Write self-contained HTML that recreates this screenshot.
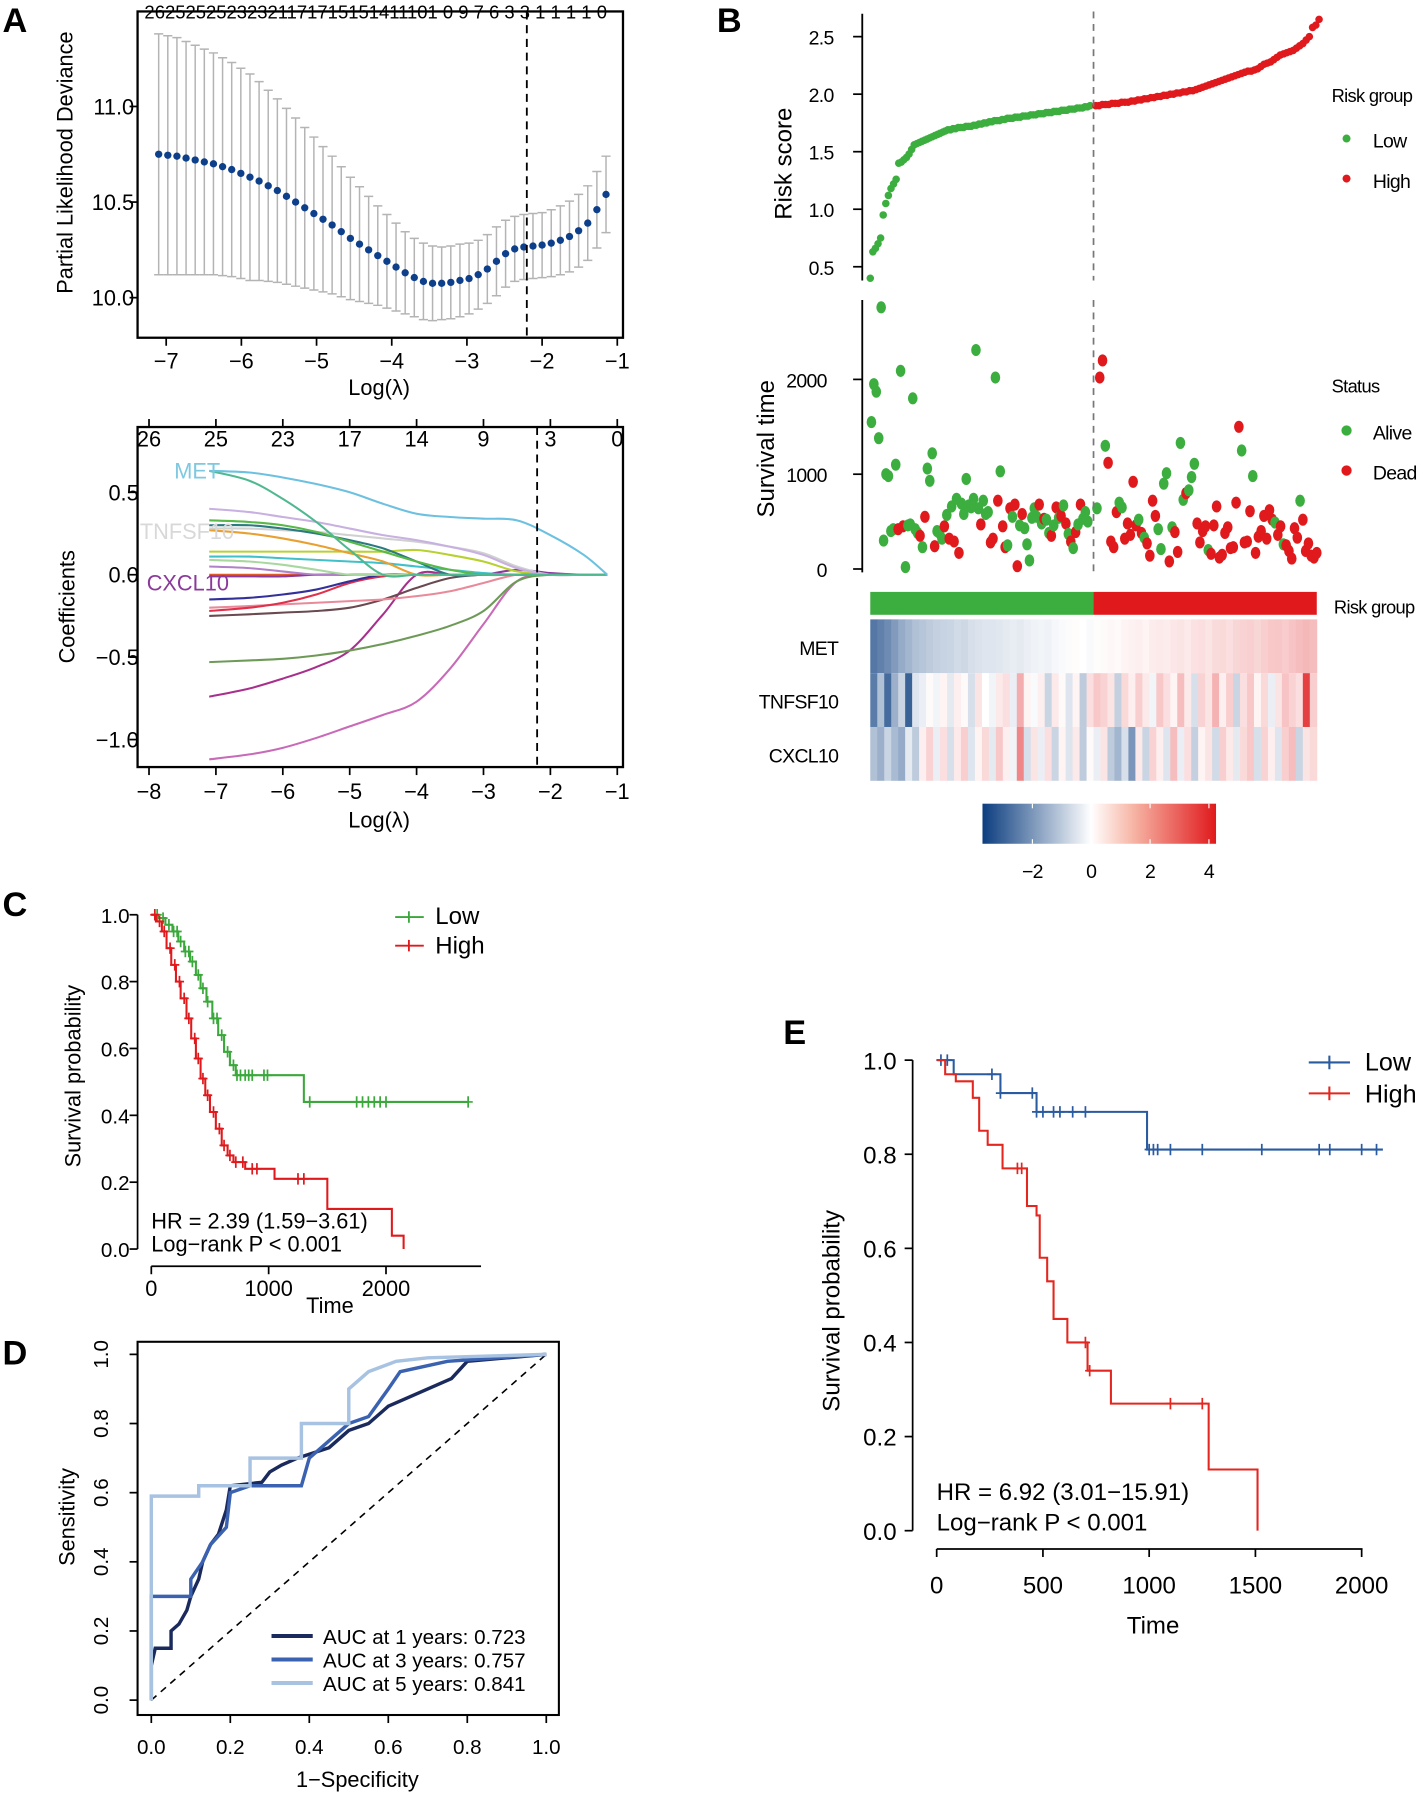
<!DOCTYPE html>
<html><head><meta charset="utf-8">
<style>
html,body{margin:0;padding:0;background:#fff;}
svg{display:block;font-family:"Liberation Sans",Arial,sans-serif;}
.n text{letter-spacing:-0.6px;}
</style></head>
<body>
<svg id="fig" width="1420" height="1794" viewBox="0 0 1240 1567">
<rect width="1240" height="1567" fill="#fff"/>
</svg>
<script>
// ===== Panel A (CV deviance) data =====
const aMean=[10.75,10.745,10.74,10.73,10.72,10.71,10.70,10.685,10.67,10.65,10.63,10.61,10.585,10.56,10.53,10.50,10.47,10.44,10.41,10.38,10.345,10.31,10.28,10.25,10.22,10.19,10.16,10.13,10.105,10.085,10.075,10.075,10.08,10.09,10.10,10.12,10.15,10.19,10.23,10.255,10.265,10.27,10.275,10.285,10.30,10.32,10.35,10.39,10.46,10.54];
const aSE=[0.63,0.625,0.62,0.61,0.60,0.59,0.58,0.57,0.56,0.55,0.54,0.52,0.50,0.48,0.46,0.44,0.42,0.40,0.38,0.36,0.34,0.32,0.30,0.28,0.26,0.245,0.23,0.215,0.205,0.20,0.195,0.19,0.19,0.19,0.185,0.18,0.18,0.18,0.175,0.17,0.17,0.17,0.17,0.175,0.18,0.185,0.19,0.195,0.2,0.2];
const aXTicks=[-7,-6,-5,-4,-3,-2,-1];
const aYTicks=[10.0,10.5,11.0];
// ===== Panel A (coefficient paths) data =====
const cLam=[-7.1,-6.5,-6,-5.5,-5,-4.5,-4,-3.5,-3,-2.5,-2,-1.5,-1.15];
const cMET=[.63,.62,.59,.55,.50,.43,.37,.35,.34,.33,.24,.12,0];
const cTeal=[.63,.57,.46,.32,.15,0,0,0,0,0,0,0,0];
const cLav=[.40,.38,.35,.32,.28,.24,.21,.17,.12,.04,0,0,0];
const cGreen=[.33,.32,.30,.26,.20,.14,.08,.03,0,0,0,0,0];
const cDTeal=[.30,.30,.28,.25,.21,.16,.08,0,0,0,0,0,0];
const cGray=[.28,.28,.27,.26,.24,.22,.20,.17,.13,.05,0,0,0];
const cOrange=[.27,.25,.22,.18,.13,.08,0,0,0,0,0,0,0];
const cYG=[.14,.14,.14,.14,.14,.14,.15,.12,.08,.02,0,0,0];
const cCyan=[.11,.11,.10,.09,.08,.07,.05,.03,.01,0,0,0,0];
const cLGreen=[.09,.08,.06,.03,0,0,0,0,0,0,0,0,0];
const cLPurp=[.05,.04,.02,0,0,0,0,0,0,0,0,0,0];
const cCXCL=[-.01,-.01,-.01,0,0,0,0,0,0,.03,.01,0,0];
const cDBlue=[-.15,-.14,-.12,-.09,-.04,0,0,0,0,0,0,0,0];
const cCrim=[-.22,-.20,-.17,-.12,-.05,-.01,0,0,0,0,0,0,0];
const cPink=[-.20,-.19,-.18,-.17,-.16,-.15,-.13,-.10,-.05,0,0,0,0];
const cBrown=[-.25,-.24,-.23,-.22,-.20,-.15,-.08,-.02,0,0,0,0,0];
const cOlive=[-.53,-.52,-.51,-.49,-.46,-.42,-.37,-.31,-.22,-.04,0,0,0];
const cMag=[-.74,-.69,-.63,-.56,-.46,-.24,0,0,0,0,0,0,0];
const cViol=[-1.12,-1.09,-1.05,-.99,-.92,-.85,-.77,-.57,-.30,-.04,0,0,0];
const cFlat=[0,0,0,0,0,0,0,0,0,0,0,0,0];
const cTopLab=[26,25,23,17,14,9,3,0];
const cTopPos=[-8,-7,-6,-5,-4,-3,-2,-1];
// ===== Panel B data =====
const riskLow=[0.40,0.63,0.66,0.70,0.75,0.95,1.05,1.12,1.18,1.22,1.26,1.40,1.41,1.43,1.45,1.48,1.52,1.56,1.57,1.58,1.59,1.60,1.61,1.62,1.63,1.64,1.65,1.66,1.67,1.68,1.69,1.69,1.70,1.70,1.71,1.71,1.71,1.72,1.72,1.72,1.73,1.73,1.74,1.74,1.75,1.75,1.76,1.76,1.77,1.77,1.77,1.78,1.78,1.79,1.79,1.79,1.80,1.80,1.80,1.81,1.81,1.81,1.82,1.82,1.82,1.83,1.83,1.83,1.84,1.84,1.84,1.85,1.85,1.85,1.86,1.86,1.86,1.87,1.87,1.87,1.88,1.88,1.88,1.89,1.89,1.90];
const riskHigh=[1.90,1.90,1.91,1.91,1.91,1.92,1.92,1.92,1.93,1.93,1.93,1.94,1.94,1.95,1.95,1.96,1.96,1.97,1.97,1.98,1.98,1.99,1.99,2.00,2.00,2.01,2.01,2.02,2.02,2.03,2.03,2.04,2.05,2.06,2.07,2.08,2.09,2.10,2.11,2.12,2.13,2.14,2.15,2.16,2.17,2.18,2.19,2.20,2.20,2.21,2.22,2.24,2.26,2.27,2.28,2.30,2.32,2.34,2.35,2.36,2.37,2.38,2.40,2.42,2.44,2.47,2.50,2.58,2.60,2.65];
const timeLow=[1550,1950,1870,1380,2760,300,1000,980,400,420,1100,420,2090,450,20,460,470,1800,420,380,350,230,550,1060,930,1220,240,400,380,320,450,570,320,660,290,740,170,690,580,950,670,650,740,2310,640,470,720,580,600,280,320,2020,720,1030,450,230,250,640,550,680,30,460,580,430,260,90,540,640,550,680,480,530,520,380,350,460,650,540,560,670,480,370,290,220,390,470,680,530,600,500];
const statLow=[0,0,0,0,0,0,0,0,0,0,0,1,0,1,0,0,0,0,0,0,1,0,1,0,0,0,1,0,0,0,1,0,1,0,1,0,1,0,0,0,0,0,0,0,0,1,0,0,0,1,1,0,1,0,1,1,0,1,0,1,1,0,1,0,0,0,0,0,0,1,0,1,0,0,1,0,1,0,1,0,1,0,1,0,1,0,1,0,0,0];
const timeHigh=[640,2020,2200,1300,1120,290,230,600,700,650,320,480,360,920,460,520,380,330,270,140,720,560,420,210,900,1010,80,440,390,180,1330,730,800,830,970,1110,480,280,400,450,200,160,460,660,120,150,380,440,220,230,700,1500,1250,280,290,610,980,170,340,400,560,320,620,520,490,360,450,260,250,190,110,430,330,720,520,190,270,140,120,170];
const statHigh=[0,1,1,0,1,1,1,1,0,0,1,1,1,1,1,0,1,0,1,1,1,1,0,0,0,0,1,0,1,1,0,0,1,0,0,0,1,1,1,1,0,1,1,1,1,1,1,1,1,1,1,1,0,1,1,1,0,1,1,1,1,1,1,1,0,1,1,0,1,1,1,1,1,0,1,1,1,1,1,1];
const hmMET=[-2.6,-2.4,-2.2,-1.9,-1.6,-1.4,-1.2,-1.1,-1.0,-0.9,-0.85,-0.8,-0.7,-0.75,-0.6,-0.55,-0.5,-0.5,-0.45,-0.4,-0.35,-0.4,-0.3,-0.25,-0.2,-0.25,-0.15,-0.1,-0.05,0.05,0,-0.1,0.05,0.1,0.15,0.1,0.2,0.25,0.3,0.2,0.35,0.4,0.35,0.45,0.5,0.4,0.55,0.6,0.5,0.65,0.7,0.6,0.75,0.8,0.85,0.75,0.9,1.0,1.05,0.95,1.1,1.2,1.3,1.2];
const hmTNF=[-2.5,-1.2,-2.8,-1.5,-0.8,-3.0,-0.5,-0.3,0.1,-0.2,0.2,-0.4,0.3,0.1,-0.6,0.5,0.0,-0.2,0.4,0.6,-0.3,1.5,0.2,-0.1,0.3,-0.8,0.4,0.1,-0.5,0.2,-1.0,0.6,1.0,0.8,0.5,-0.9,0.7,0.3,0.9,0.4,-0.2,1.0,0.6,0.2,1.2,0.4,-0.6,0.8,0.5,1.4,0.3,0.9,-0.8,0.6,1.0,0.2,0.7,-0.3,0.5,1.1,0.8,0.6,3.5,0.9];
const hmCXC=[-1.2,-1.5,-0.8,-1.3,-1.6,-0.4,-1.0,0.3,0.8,-0.3,0.6,-0.6,0.4,0.9,-0.5,0.2,0.7,-0.4,1.0,0.3,-0.2,2.2,-0.6,0.5,-0.3,0.6,-0.8,0.2,-0.5,0.4,-1.0,0.1,-0.3,0.5,-1.0,-1.4,-0.6,-2.0,0.4,-0.8,0.8,0.3,-0.5,1.2,-0.3,0.6,-0.9,0.2,0.5,-0.7,0.9,0.4,-0.4,0.7,1.0,-0.6,0.8,0.3,-0.5,0.9,1.2,-0.8,0.5,0.7];
const hmGenes=["MET","TNFSF10","CXCL10"];
const cbTicks=[-2,0,2,4];
// ===== Panel C data =====
const kmCLowT=[0,60,120,180,230,280,330,380,420,470,520,570,620,670,720,1300,2700];
const kmCLowS=[1,0.99,0.97,0.95,0.92,0.89,0.86,0.82,0.78,0.74,0.69,0.64,0.59,0.55,0.52,0.44,0.44];
const kmCHighT=[0,40,90,130,170,210,250,300,340,380,420,460,500,550,600,650,700,800,1050,1500,2050,2150];
const kmCHighS=[1,0.98,0.95,0.90,0.85,0.80,0.75,0.69,0.63,0.57,0.51,0.46,0.41,0.36,0.31,0.28,0.26,0.24,0.21,0.12,0.04,0];
const cenCLow=[50,100,150,190,220,250,290,320,350,400,440,480,530,560,600,650,700,730,760,800,830,860,960,990,1350,1750,1800,1850,1900,1950,2000,2700];
const cenCHigh=[30,70,110,160,200,240,280,320,370,400,440,480,530,580,620,670,720,780,860,900,1250,1300];
const kmYTicks=[0,0.2,0.4,0.6,0.8,1.0];
const cXTicks=[0,1000,2000];
// ===== Panel D data =====
const roc1F=[0,0,0.01,0.05,0.05,0.07,0.09,0.10,0.12,0.13,0.15,0.17,0.19,0.20,0.28,0.30,0.33,0.37,0.45,0.50,0.55,0.60,0.70,0.76,0.80,0.90,1];
const roc1T=[0,0.10,0.15,0.15,0.20,0.22,0.26,0.30,0.35,0.40,0.45,0.48,0.55,0.62,0.63,0.66,0.68,0.70,0.73,0.78,0.80,0.85,0.90,0.93,0.98,0.99,1];
const roc3F=[0,0,0.10,0.10,0.13,0.15,0.19,0.20,0.25,0.38,0.40,0.45,0.50,0.55,0.60,0.63,0.75,1];
const roc3T=[0,0.30,0.30,0.35,0.40,0.45,0.50,0.60,0.62,0.62,0.70,0.75,0.80,0.82,0.90,0.95,0.98,1];
const roc5F=[0,0,0.12,0.12,0.25,0.25,0.38,0.38,0.50,0.50,0.55,0.62,0.70,1];
const roc5T=[0,0.59,0.59,0.62,0.62,0.70,0.70,0.80,0.80,0.90,0.95,0.98,0.99,1];
const rocLabels=["AUC at 1 years: 0.723","AUC at 3 years: 0.757","AUC at 5 years: 0.841"];
const dTicks=[0,0.2,0.4,0.6,0.8,1.0];
// ===== Panel E data =====
const kmELowT=[0,80,300,470,990,2100];
const kmELowS=[1,0.97,0.93,0.89,0.81,0.81];
const kmEHighT=[0,40,90,170,200,240,310,425,470,485,520,550,615,710,820,1280,1510];
const kmEHighS=[1,0.97,0.955,0.92,0.85,0.82,0.77,0.69,0.67,0.58,0.53,0.45,0.40,0.34,0.27,0.13,0];
const cenELow=[20,50,260,300,450,470,500,550,580,640,700,1000,1020,1040,1100,1250,1530,1800,1850,2000,2070];
const cenEHigh=[380,400,700,720,1100,1250];
const eXTicks=[0,500,1000,1500,2000];

const NS='http://www.w3.org/2000/svg';
const svg=document.getElementById('fig');
function mk(tag,a,p){const e=document.createElementNS(NS,tag);for(const k in a)e.setAttribute(k,a[k]);(p||svg).appendChild(e);return e;}
function tx(s,x,y,a,p){const e=mk('text',Object.assign({x:x,y:y,'font-size':18},a||{}),p);e.textContent=s;return e;}
function grp(name){const g=mk('g',{});return g;}
function ln(x1,y1,x2,y2,st,w,p,extra){return mk('line',Object.assign({x1:x1,y1:y1,x2:x2,y2:y2,stroke:st||'#000','stroke-width':w||1.5},extra||{}),p);}

[['A',2,28],['B',626,28],['C',2,800],['D',2,1192],['E',684,912]].forEach(function(L){
  const t=tx(L[0],L[1],L[2],{'font-size':30,'font-weight':'bold'});
  
  
});

// ===== Panel A top =====
(function(){
  const g=grp('cv-deviance-plot');
  const X=v=>145+(v+7)*65.67, Y=v=>260-(v-10)*167;
  const r=mk('rect',{x:120,y:10,width:424,height:285,fill:'none',stroke:'#000','stroke-width':2},g);
  
  const n=aMean.length;
  for(let i=0;i<n;i++){
    const lam=-7.1+i*(5.95/(n-1));const x=X(lam);
    const hi=Y(aMean[i]+aSE[i]),lo=Y(aMean[i]-aSE[i]);
    const eb=mk('path',{d:`M${x},${hi}V${lo}M${x-4},${hi}H${x+4}M${x-4},${lo}H${x+4}`,stroke:'#b4b4b4','stroke-width':1.3,fill:'none'},g);
    
  }
  for(let i=0;i<n;i++){
    const lam=-7.1+i*(5.95/(n-1));
    const c=mk('circle',{cx:X(lam),cy:Y(aMean[i]),r:3.2,fill:'#0d3f8a'},g);
    
  }
  const dl=ln(460,10,460,295,'#000',1.6,g,{'stroke-dasharray':'7,5'});
  
  aXTicks.forEach(v=>{ln(X(v),295,X(v),302,'#000',1.5,g);const t=tx('−'+Math.abs(v),X(v),322,{'text-anchor':'middle','font-size':19},g);});
  aYTicks.forEach(v=>{ln(113,Y(v),120,Y(v),'#000',1.5,g);const t=tx(v.toFixed(1),117,Y(v)+7,{'text-anchor':'end','font-size':19},g);});
  const xt=tx('Log(λ)',331,345,{'text-anchor':'middle','font-size':19},g);
  const yt=tx('Partial Likelihood Deviance',0,0,{'text-anchor':'middle','font-size':19,transform:'translate(63,142) rotate(-90)'},g);
  const tp=tx('26252525232321171715151411101 0 9  7 6 3 3 1 1 1 1 0',126,16,{'font-size':16,textLength:404,lengthAdjust:'spacingAndGlyphs'},g);
})();

// ===== Panel A bottom =====
(function(){
  const g=grp('coefficient-path-plot');
  const X=v=>130+(v+8)*58.43, Y=v=>502-v*144;
  const r=mk('rect',{x:120,y:373,width:424,height:297,fill:'none',stroke:'#000','stroke-width':2},g);
  
  const series=[[cFlat,'#e05a2a'],[cViol,'#c86ab8'],[cMag,'#a8308c'],[cOlive,'#6e9a58'],[cBrown,'#6a4a50'],[cPink,'#e88a9a'],[cCrim,'#e0304a'],[cDBlue,'#34309a'],[cCXCL,'#8b3a9b'],[cLPurp,'#b080c8'],[cLGreen,'#a8d8a0'],[cCyan,'#40c0c8'],[cYG,'#b8d030'],[cOrange,'#e8a030'],[cGray,'#d0d0d0'],[cDTeal,'#2a7a80'],[cGreen,'#58b848'],[cLav,'#c8b0e0'],[cTeal,'#50b890'],[cMET,'#6cc0e0']];
  series.forEach(function(s){
    const pts=cLam.map((l,i)=>[X(l),Y(s[0][i])]);
    let d='M'+pts[0][0]+','+pts[0][1];
    for(let i=0;i<pts.length-1;i++){
      const p0=pts[Math.max(0,i-1)],p1=pts[i],p2=pts[i+1],p3=pts[Math.min(pts.length-1,i+2)];
      const c1=[p1[0]+(p2[0]-p0[0])/6,p1[1]+(p2[1]-p0[1])/6],c2=[p2[0]-(p3[0]-p1[0])/6,p2[1]-(p3[1]-p1[1])/6];
      d+=`C${c1[0]},${c1[1]} ${c2[0]},${c2[1]} ${p2[0]},${p2[1]}`;
    }
    const p=mk('path',{d:d,fill:'none',stroke:s[1],'stroke-width':1.8},g);
    
  });
  const dl=ln(469,373,469,670,'#000',1.6,g,{'stroke-dasharray':'7,5'});
  [-8,-7,-6,-5,-4,-3,-2,-1].forEach(v=>{ln(X(v),670,X(v),677,'#000',1.5,g);const t=tx('−'+Math.abs(v),X(v),698,{'text-anchor':'middle','font-size':19},g);});
  cTopLab.forEach((v,i)=>{ln(X(cTopPos[i]),366,X(cTopPos[i]),373,'#000',1.5,g);const t=tx(String(v),X(cTopPos[i]),390,{'text-anchor':'middle','font-size':19},g);});
  [0.5,0,-0.5,-1].forEach(v=>{ln(113,Y(v),120,Y(v),'#000',1.5,g);const t=tx((v<0?'−':'')+Math.abs(v).toFixed(1),121,Y(v)+7,{'text-anchor':'end','font-size':19},g);});
  const l1=tx('MET',152,418,{'font-size':19,fill:'#7ec8e0'},g);
  const l2=tx('TNFSF10',122,471,{'font-size':19,fill:'#d8d8d8'},g);
  const l3=tx('CXCL10',128,516,{'font-size':19,fill:'#8b3a9b'},g);
  const xt=tx('Log(λ)',331,723,{'text-anchor':'middle','font-size':19},g);
  const yt=tx('Coefficients',0,0,{'text-anchor':'middle','font-size':19,transform:'translate(65,530) rotate(-90)'},g);
})();

// ===== Panel B =====
(function(){
  const g=grp('risk-score-panel');g.setAttribute('class','n');
  const YR=v=>233-(v-0.5)*100.5;
  ln(753,12,753,245,'#000',1.6,g);
  [0.5,1.0,1.5,2.0,2.5].forEach(v=>{ln(745,YR(v),753,YR(v),'#000',1.5,g);const t=tx(v.toFixed(1),728,YR(v)+7,{'text-anchor':'end','font-size':17},g);});
  const yt=tx('Risk score',0,0,{'text-anchor':'middle','font-size':21,transform:'translate(691,143) rotate(-90)',style:'letter-spacing:0'},g);
  const xL=i=>760+i*(952-760)/(riskLow.length-1), xH=i=>957+i*(1152-957)/(riskHigh.length-1);
  riskLow.forEach((v,i)=>{const c=mk('circle',{cx:xL(i),cy:YR(v),r:3.3,fill:'#3cae3f'},g);});
  riskHigh.forEach((v,i)=>{const c=mk('circle',{cx:xH(i),cy:YR(v),r:3.3,fill:'#e0191c'},g);});
  const d1=ln(955,10,955,245,'#777',1.5,g,{'stroke-dasharray':'6,5'});
  const YS=v=>497-v*0.0828;
  ln(753,262,753,500,'#000',1.6,g);
  [0,1000,2000].forEach(v=>{ln(745,YS(v),753,YS(v),'#000',1.5,g);const t=tx(String(v),722,YS(v)+7,{'text-anchor':'end','font-size':17},g);});
  const yt2=tx('Survival time',0,0,{'text-anchor':'middle','font-size':21,transform:'translate(676,392) rotate(-90)',style:'letter-spacing:0'},g);
  const xLs=i=>761+i*(950-761)/(timeLow.length-1), xHs=i=>958+i*(1150-958)/(timeHigh.length-1);
  timeLow.forEach((v,i)=>{const e=mk('ellipse',{cx:xLs(i),cy:YS(v),rx:4.2,ry:5.3,fill:statLow[i]?'#e0191c':'#3cae3f'},g);});
  timeHigh.forEach((v,i)=>{const e=mk('ellipse',{cx:xHs(i),cy:YS(v),rx:4.2,ry:5.3,fill:statHigh[i]?'#e0191c':'#3cae3f'},g);});
  const d2=ln(955,262,955,500,'#777',1.5,g,{'stroke-dasharray':'6,5'});
  const lg=tx('Risk group',1163,89,{'font-size':16},g);
  let c=mk('circle',{cx:1176,cy:121,r:3.5,fill:'#3cae3f'},g);
  let t=tx('Low',1199,129,{'font-size':17},g);
  c=mk('circle',{cx:1176,cy:156,r:3.5,fill:'#e0191c'},g);
  t=tx('High',1199,164,{'font-size':17},g);
  t=tx('Status',1163,343,{'font-size':16},g);
  c=mk('circle',{cx:1176,cy:376,r:4.5,fill:'#3cae3f'},g);
  t=tx('Alive',1199,384,{'font-size':17},g);
  c=mk('circle',{cx:1176,cy:411,r:4.5,fill:'#e0191c'},g);
  t=tx('Dead',1199,419,{'font-size':17},g);
  const rb1=mk('rect',{x:760,y:517,width:195,height:20,fill:'#3cae3f'},g);
  const rb2=mk('rect',{x:955,y:517,width:195,height:20,fill:'#e0191c'},g);
  t=tx('Risk group',1165,536,{'font-size':16},g);
  function col(v){
    const lerp=(a,b,f)=>Math.round(a+(b-a)*f);
    if(v<0){const f=Math.min(1,-v/3.7);return `rgb(${lerp(255,11,f)},${lerp(255,61,f)},${lerp(255,127,f)})`;}
    const f=Math.min(1,v/4.2);return `rgb(${lerp(255,224,f)},${lerp(255,25,f)},${lerp(255,28,f)})`;
  }
  [hmMET,hmTNF,hmCXC].forEach((row,ri)=>{
    const w=390/row.length;const y=541+ri*47;
    row.forEach((v,i)=>{const r=mk('rect',{x:760+i*w,y:y,width:w+0.4,height:47,fill:col(v)},g);});
    const lb=tx(hmGenes[ri],732,y+31,{'text-anchor':'end','font-size':17},g);
  });
  const defs=mk('defs',{},g);
  const lgd=mk('linearGradient',{id:'cb',x1:0,x2:1,y1:0,y2:0},defs);
  [[0,'#0b3d7f'],[0.465,'#ffffff'],[0.65,'#f6b3a3'],[1,'#e0191c']].forEach(s=>mk('stop',{offset:s[0],'stop-color':s[1]},lgd));
  const cb=mk('rect',{x:858,y:702,width:204,height:35,fill:'url(#cb)'},g);
  const XC=v=>953+v*25.7;
  cbTicks.forEach(v=>{ln(XC(v),702,XC(v),706,'#fff',1,g);ln(XC(v),733,XC(v),737,'#fff',1,g);const t=tx((v<0?'−':'')+Math.abs(v),XC(v),767,{'text-anchor':'middle','font-size':17},g);});
})();

function km(g,T,S,X,Y,color,cens,name){
  let d=`M${X(T[0])},${Y(S[0])}`;
  for(let i=1;i<T.length;i++){d+=`H${X(T[i])}V${Y(S[i])}`;}
  const p=mk('path',{d:d,fill:'none',stroke:color,'stroke-width':1.8},g);
  
  cens.forEach(t=>{let s=S[0];for(let i=0;i<T.length;i++)if(T[i]<=t)s=S[i];
    const m=mk('path',{d:`M${X(t)-4},${Y(s)}h8M${X(t)},${Y(s)-5}v10`,stroke:color,'stroke-width':1.5},g);
    });
}

// ===== Panel C =====
(function(){
  const g=grp('km-plot-training');
  const X=v=>132+v*0.1025, Y=v=>1091-v*292;
  ln(120,1091,120,799,'#000',1.5,g);ln(132,1106,420,1106,'#000',1.5,g);
  kmYTicks.forEach(v=>{ln(113,Y(v),120,Y(v),'#000',1.5,g);const t=tx(v.toFixed(1),113,Y(v)+7,{'text-anchor':'end','font-size':18},g);});
  cXTicks.forEach(v=>{ln(X(v),1106,X(v),1113,'#000',1.5,g);const t=tx(String(v),X(v),1132,{'text-anchor':'middle','font-size':19},g);});
  km(g,kmCLowT,kmCLowS,X,Y,'#3aa83a',cenCLow,'km-low-curve');
  km(g,kmCHighT,kmCHighS,X,Y,'#e0191c',cenCHigh,'km-high-curve');
  let t=tx('Survival probability',0,0,{'text-anchor':'middle','font-size':19,transform:'translate(70,940) rotate(-90)'},g);
  t=tx('Time',288,1147,{'text-anchor':'middle','font-size':19},g);
  t=tx('HR = 2.39 (1.59−3.61)',132,1073,{'font-size':19},g);
  t=tx('Log−rank P < 0.001',132,1093,{'font-size':19},g);
  mk('path',{d:'M345,801h25M357,796v10',stroke:'#3aa83a','stroke-width':1.6},g);
  t=tx('Low',380,807,{'font-size':21},g);
  mk('path',{d:'M345,826h25M357,821v10',stroke:'#e0191c','stroke-width':1.6},g);
  t=tx('High',380,833,{'font-size':21},g);
})();

// ===== Panel D =====
(function(){
  const g=grp('roc-plot');
  const X=v=>132+v*345, Y=v=>1485-v*302;
  const r=mk('rect',{x:120,y:1172,width:368,height:326,fill:'none',stroke:'#000','stroke-width':1.8},g);
  const dg=ln(X(0),Y(0),X(1),Y(1),'#000',1.4,g,{'stroke-dasharray':'6,5'});
  dTicks.forEach(v=>{
    ln(X(v),1498,X(v),1505,'#000',1.5,g);let t=tx(v.toFixed(1),X(v),1532,{'text-anchor':'middle','font-size':18},g);
    ln(113,Y(v),120,Y(v),'#000',1.5,g);t=tx(v.toFixed(1),0,0,{'text-anchor':'middle','font-size':18,transform:`translate(94,${Y(v)}) rotate(-90)`},g);
  });
  const cols=['#1b2a5c','#3a62b0','#a8c2e2'];
  [[roc1F,roc1T],[roc3F,roc3T],[roc5F,roc5T]].forEach((s,k)=>{
    let d=`M${X(s[0][0])},${Y(s[1][0])}`;
    for(let i=1;i<s[0].length;i++)d+=`L${X(s[0][i])},${Y(s[1][i])}`;
    const p=mk('path',{d:d,fill:'none',stroke:cols[k],'stroke-width':3},g);
    
  });
  rocLabels.forEach((s,k)=>{const y=1435+k*20.5;ln(237,y-6,273,y-6,cols[k],3.5,g);const t=tx(s,282,y+1,{'font-size':18},g);});
  let t=tx('Sensitivity',0,0,{'text-anchor':'middle','font-size':19,transform:'translate(65,1325) rotate(-90)'},g);
  t=tx('1−Specificity',312,1561,{'text-anchor':'middle','font-size':19},g);
})();

// ===== Panel E =====
(function(){
  const g=grp('km-plot-validation');
  const X=v=>818+v*0.1856, Y=v=>1337-v*411;
  ln(797,926,797,1337,'#000',1.5,g);ln(818,1353,1190,1353,'#000',1.5,g);
  kmYTicks.forEach(v=>{ln(790,Y(v),797,Y(v),'#000',1.5,g);const t=tx(v.toFixed(1),783,Y(v)+8,{'text-anchor':'end','font-size':21},g);});
  eXTicks.forEach(v=>{ln(X(v),1353,X(v),1360,'#000',1.5,g);const t=tx(String(v),X(v),1392,{'text-anchor':'middle','font-size':21},g);});
  km(g,kmELowT,kmELowS,X,Y,'#2a5aa0',cenELow,'km-low-curve');
  km(g,kmEHighT,kmEHighS,X,Y,'#e3261f',cenEHigh,'km-high-curve');
  let t=tx('Survival probability',0,0,{'text-anchor':'middle','font-size':21,transform:'translate(733,1145) rotate(-90)'},g);
  t=tx('Time',1007,1427,{'text-anchor':'middle','font-size':21},g);
  t=tx('HR = 6.92 (3.01−15.91)',818,1310,{'font-size':21},g);
  t=tx('Log−rank P < 0.001',818,1337,{'font-size':21},g);
  mk('path',{d:'M1143,928h36M1161,922v12',stroke:'#2a5aa0','stroke-width':1.8},g);
  t=tx('Low',1192,935,{'font-size':22},g);
  mk('path',{d:'M1143,955h36M1161,949v12',stroke:'#e3261f','stroke-width':1.8},g);
  t=tx('High',1192,963,{'font-size':22},g);
})();
</script>
</body></html>
